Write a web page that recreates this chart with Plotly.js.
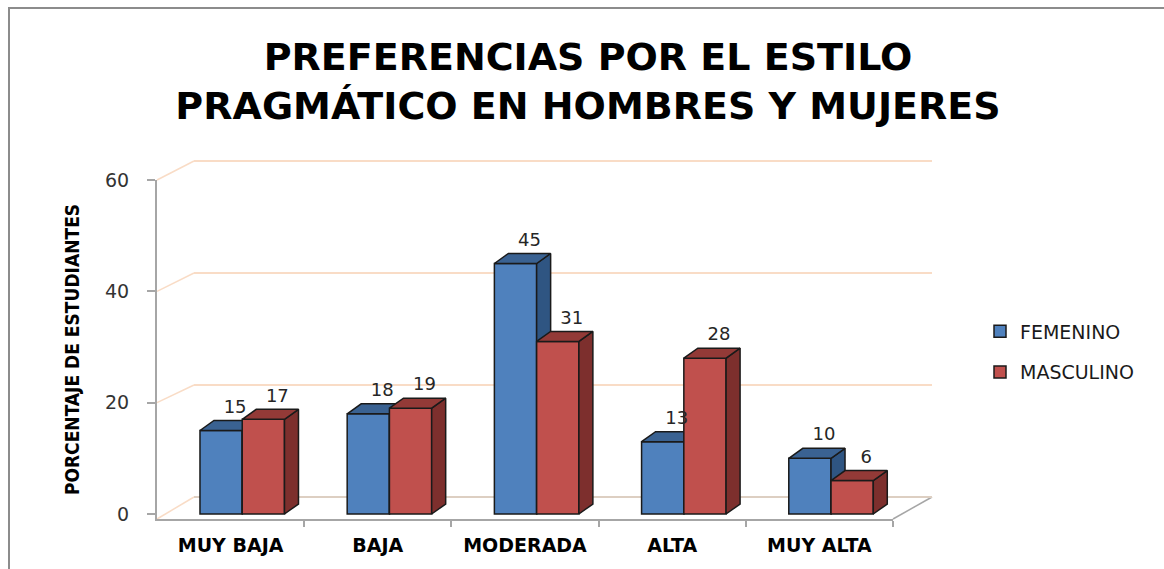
<!DOCTYPE html>
<html>
<head>
<meta charset="utf-8">
<script src="https://cdn.plot.ly/plotly-3.0.1.min.js"></script>
<style>html,body{margin:0;padding:0;background:#fff;}#chart{width:1164px;height:569px;}</style>
</head>
<body>
<div id="chart"></div>
<script>
// ---- data ----
var categories = ["MUY BAJA", "BAJA", "MODERADA", "ALTA", "MUY ALTA"];
var femenino = [15, 18, 45, 13, 10];
var masculino = [17, 19, 31, 28, 6];
var seriesNames = ["FEMENINO", "MASCULINO"];
var yTicks = [0, 20, 40, 60];

// ---- geometry (pixel layout helpers) ----
var W = 1164, H = 569;
var ML = 157, MR = 232, MT = 140, MB = 50;
var PW = W - ML - MR, PH = H - MT - MB;
function PX(x) { return (x - ML) / PW; }
function PY(y) { return (H - MB - y) / PH; }

var xRange = [-0.5, 4.5];
var yRange = [-0.9, 60];
var xDom = [0, PX(893)];
var yDom = [0, PY(180)];
var pxPerX = (893 - ML) / (xRange[1] - xRange[0]);
var pxPerY = (519 - 180) / (yRange[1] - yRange[0]);
var dx = 14 / pxPerX;   // depth offset in x units
var dy = 10 / pxPerY;   // depth offset in y units
var barW = 0.287;
var offB = -0.208, offR = offB + barW;

// back wall
var backBottom = 497, backTop60 = 161;
var backPxPerY = (backBottom - backTop60) / 60;
var backRange = [0, 63];
var backTopPx = backBottom - backRange[1] * backPxPerY;

var xIdx = categories.map(function (c, i) { return i; });

function faces(vals, off) {
  var sx = [], sy = [], tx = [], ty = [];
  vals.forEach(function (v, i) {
    var x0 = i + off, x1 = x0 + barW;
    sx.push(x1, x1, x1 + dx, x1 + dx, x1, null);
    sy.push(0, v, v + dy, dy, 0, null);
    tx.push(x0, x1, x1 + dx, x0 + dx, x0, null);
    ty.push(v, v, v + dy, v + dy, v, null);
  });
  return { sx: sx, sy: sy, tx: tx, ty: ty };
}
var fB = faces(femenino, offB);
var fR = faces(masculino, offR);

var edge = { color: '#1a1a1a', width: 1.5 };
var cols = {
  bFront: '#4f81bd', bSide: '#2f5582', bTop: '#3a6292',
  rFront: '#c0504d', rSide: '#7d2f2d', rTop: '#933a37'
};
var labelLift = 0.6;

var traces = [
  // back wall subplot (only carries the grid)
  { type: 'scatter', x: [0.5], y: [30], xaxis: 'x', yaxis: 'y', mode: 'markers',
    marker: { opacity: 0 }, hoverinfo: 'skip', showlegend: false },
  // FEMENINO
  { type: 'bar', name: seriesNames[0], x: xIdx, y: femenino, xaxis: 'x2', yaxis: 'y2',
    width: barW, offset: offB, marker: { color: cols.bFront, line: edge },
    legendgroup: 'f' },
  { type: 'scatter', x: fB.sx, y: fB.sy, xaxis: 'x2', yaxis: 'y2', mode: 'lines', fill: 'toself',
    fillcolor: cols.bSide, line: edge, hoverinfo: 'skip', showlegend: false },
  { type: 'scatter', x: fB.tx, y: fB.ty, xaxis: 'x2', yaxis: 'y2', mode: 'lines', fill: 'toself',
    fillcolor: cols.bTop, line: edge, hoverinfo: 'skip', showlegend: false },
  // MASCULINO (overlay subplot, drawn in front)
  { type: 'bar', name: seriesNames[1], x: xIdx, y: masculino, xaxis: 'x3', yaxis: 'y3',
    width: barW, offset: offR, marker: { color: cols.rFront, line: edge },
    legendgroup: 'm' },
  { type: 'scatter', x: fR.sx, y: fR.sy, xaxis: 'x3', yaxis: 'y3', mode: 'lines', fill: 'toself',
    fillcolor: cols.rSide, line: edge, hoverinfo: 'skip', showlegend: false },
  { type: 'scatter', x: fR.tx, y: fR.ty, xaxis: 'x3', yaxis: 'y3', mode: 'lines', fill: 'toself',
    fillcolor: cols.rTop, line: edge, hoverinfo: 'skip', showlegend: false },
  // data labels
  { type: 'scatter', mode: 'text', xaxis: 'x3', yaxis: 'y3',
    x: xIdx.map(function (i) { return i + offB + barW / 2 + dx; }).concat(
       xIdx.map(function (i) { return i + offR + barW / 2 + dx; })),
    y: femenino.map(function (v) { return v + dy + labelLift; }).concat(
       masculino.map(function (v) { return v + dy + labelLift; })),
    text: femenino.map(String).concat(masculino.map(String)),
    textposition: 'top center',
    textfont: { family: 'DejaVu Sans', size: 18, color: '#262626' },
    hoverinfo: 'skip', showlegend: false }
];

var peach = '#f9dcc6';
var shapes = [];
// left wall diagonals and floor diagonal
function yMainPx(v) { return 519 - (v - yRange[0]) * pxPerY; }
function yBackPx(v) { return backBottom - v * backPxPerY; }
yTicks.forEach(function (v) {
  shapes.push({ type: 'line', xref: 'paper', yref: 'paper', layer: 'below',
    x0: PX(157), y0: PY(v === 0 ? 519 : yMainPx(v)), x1: PX(194), y1: PY(yBackPx(v)),
    line: { color: peach, width: 1.5 } });
});
shapes.push({ type: 'line', xref: 'paper', yref: 'paper', layer: 'below',
  x0: PX(893), y0: PY(519), x1: PX(932), y1: PY(497), line: { color: '#a6a6a6', width: 1.5 } });
// chart frame
shapes.push({ type: 'rect', xref: 'paper', yref: 'paper', layer: 'below',
  x0: PX(9), y0: PY(8), x1: PX(1200), y1: PY(620), line: { color: '#8c8c8c', width: 2 } });

var layout = {
  width: W, height: H,
  margin: { l: ML, r: MR, t: MT, b: MB },
  paper_bgcolor: '#ffffff', plot_bgcolor: 'rgba(0,0,0,0)',
  showlegend: true,
  title: {
    text: 'PREFERENCIAS POR EL ESTILO<br>PRAGMÁTICO EN HOMBRES Y MUJERES',
    x: 588 / W, xanchor: 'center', xref: 'container',
    y: 1 - 70 / H, yanchor: 'middle', yref: 'container',
    font: { family: 'DejaVu Sans', size: 38, color: '#000000', weight: 'bold' }
  },
  xaxis: { domain: [PX(194), 1], range: [0, 1], visible: false, fixedrange: true, anchor: 'y' },
  yaxis: { domain: [PY(backBottom), PY(backTopPx)], range: backRange, anchor: 'x', tickvals: yTicks,
    showticklabels: false, ticks: '', showline: false, showgrid: true, gridcolor: peach, gridwidth: 1.5,
    zeroline: true, zerolinecolor: '#ddcfc2', zerolinewidth: 1.5, fixedrange: true },
  xaxis2: { domain: xDom, range: xRange, anchor: 'y2', tickvals: xIdx, ticktext: categories,
    ticks: '', showline: true, linecolor: '#a6a6a6', linewidth: 2, showgrid: false, zeroline: false,
    minor: { tickvals: [0.5, 1.5, 2.5, 3.5, 4.5], ticks: 'outside', ticklen: 6, tickwidth: 2, tickcolor: '#a6a6a6', showgrid: false },
    ticklabelstandoff: 8,
    tickfont: { family: 'DejaVu Sans', size: 19, color: '#000000', weight: 'bold' }, fixedrange: true },
  yaxis2: { domain: yDom, range: yRange, anchor: 'x2', tickvals: yTicks,
    ticks: 'outside', ticklen: 8, tickwidth: 2, tickcolor: '#a6a6a6',
    showline: true, linecolor: '#a6a6a6', linewidth: 2, showgrid: false, zeroline: false,
    ticklabelstandoff: 14,
    tickfont: { family: 'DejaVu Sans', size: 19, color: '#333333' },
    title: { text: 'PORCENTAJE DE ESTUDIANTES', standoff: 20,
      font: { family: 'DejaVu Sans Condensed, DejaVu Sans', size: 19, color: '#000000', weight: 'bold' } },
    fixedrange: true },
  xaxis3: { domain: xDom, range: xRange, overlaying: 'x2', anchor: 'y3', visible: false, fixedrange: true },
  yaxis3: { domain: yDom, range: yRange, overlaying: 'y2', anchor: 'x3', visible: false, fixedrange: true },
  legend: {
    x: PX(980), y: PY(352), xanchor: 'left', yanchor: 'middle',
    bgcolor: 'rgba(0,0,0,0)', traceorder: 'grouped', tracegroupgap: 13,
    font: { family: 'DejaVu Sans', size: 19, color: '#1a1a1a' }
  },
  shapes: shapes
};

Plotly.newPlot('chart', traces, layout, { displayModeBar: false, staticPlot: true });
</script>
</body>
</html>
